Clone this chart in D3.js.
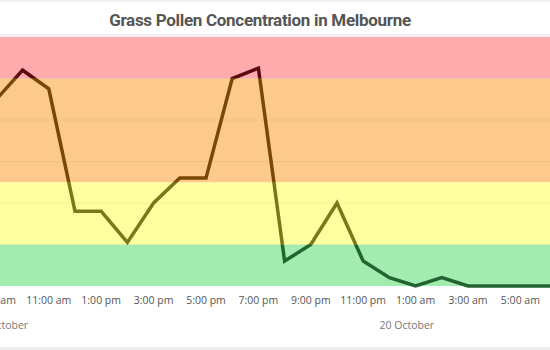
<!DOCTYPE html>
<html><head><meta charset="utf-8">
<script src="https://cdn.jsdelivr.net/npm/d3@7"></script>
<style>
html,body{margin:0;padding:0;background:#fff;overflow:hidden}
svg{display:block}
</style></head>
<body>
<svg id="c" width="550" height="350"></svg>
<script>
// ---- data ----
const hours = ["2024-10-19T09:00","2024-10-19T10:00","2024-10-19T11:00","2024-10-19T12:00","2024-10-19T13:00","2024-10-19T14:00","2024-10-19T15:00","2024-10-19T16:00","2024-10-19T17:00","2024-10-19T18:00","2024-10-19T19:00","2024-10-19T20:00","2024-10-19T21:00","2024-10-19T22:00","2024-10-19T23:00","2024-10-20T00:00","2024-10-20T01:00","2024-10-20T02:00","2024-10-20T03:00","2024-10-20T04:00","2024-10-20T05:00","2024-10-20T06:00","2024-10-20T07:00"];
const pollen = [90,104,95,36,36,21,40,52,52,100,105,12,20,40,12,4,0,4,0,0,0,0,0];
const bandLimits = [0,20,50,100,120];
const bandColors = ["#a3ecb0","#ffff9f","#fdca8c","#ffabad"];
const lineColors = ["#23632f","#79791c","#7a4806","#5e0715"];
const yTicks = [0,20,40,60,80,100,120];
const dateLabels = ["19 October","20 October"];
const dateLabelTimes = ["2024-10-19T09:10","2024-10-20T00:40"];
const title = "Grass Pollen Concentration in Melbourne";

const parse = d3.timeParse("%Y-%m-%dT%H:%M");
const data = hours.map((h,i)=>({t:parse(h), v:pollen[i]}));

const svg = d3.select("#c");
const W=550,H=350;
const plotTop=37,plotBottom=286;

const x = d3.scaleTime()
  .domain([parse(hours[0]), parse(hours[hours.length-1])])
  .range([-3.6, -3.6 + 26.2*(hours.length-1)]);
const y = d3.scaleLinear().domain([0,120]).range([plotBottom, plotTop]);

// card borders
svg.append("rect").attr("x",0).attr("y",0).attr("width",W).attr("height",2).attr("fill","#efefef");
svg.append("rect").attr("x",0).attr("y",34).attr("width",W).attr("height",3).attr("fill","#efefef");
svg.append("rect").attr("x",0).attr("y",347).attr("width",W).attr("height",3).attr("fill","#efefef");

// title
svg.append("text").attr("x",260).attr("y",26).attr("text-anchor","middle")
  .attr("font-family","Roboto, sans-serif")
  .attr("font-weight","bold").attr("font-size",17).attr("letter-spacing",-0.3).attr("fill","#555")
  .text(title);

// bands
const bands = d3.range(bandColors.length).map(i=>({lo:bandLimits[i],hi:bandLimits[i+1],c:bandColors[i]}));
svg.append("g").selectAll("rect").data(bands).join("rect")
  .attr("x",0).attr("width",W)
  .attr("y",d=>y(d.hi)).attr("height",d=>y(d.lo)-y(d.hi))
  .attr("fill",d=>d.c);

// gridlines
svg.append("g").selectAll("line").data(yTicks.slice(1,-1)).join("line")
  .attr("x1",0).attr("x2",W).attr("y1",d=>y(d)).attr("y2",d=>y(d))
  .attr("stroke","#000").attr("stroke-opacity",0.05).attr("stroke-width",1);

// gradient for line
const defs = svg.append("defs");
const grad = defs.append("linearGradient").attr("id","lg")
  .attr("gradientUnits","userSpaceOnUse")
  .attr("x1",0).attr("x2",0).attr("y1",y(0)).attr("y2",y(120));
bands.forEach((b,i)=>{
  grad.append("stop").attr("offset",b.lo/120).attr("stop-color",lineColors[i]);
  grad.append("stop").attr("offset",b.hi/120).attr("stop-color",lineColors[i]);
});

svg.append("path").datum(data)
  .attr("fill","none").attr("stroke","url(#lg)").attr("stroke-width",3.5)
  .attr("stroke-linejoin","miter")
  .attr("d", d3.line().x(d=>x(d.t)).y(d=>y(d.v)));

// x axis labels (every 2 hours from the first)
const fmt = d3.timeFormat("%-I:%M %p");
const ticks = data.map(d=>d.t).filter((t,i)=>i%2===0);
svg.append("g").selectAll("text").data(ticks).join("text")
  .attr("x",d=>x(d)).attr("y",304).attr("text-anchor","middle")
  .attr("font-family","'Open Sans', sans-serif").attr("font-size",10.5).attr("fill","#555")
  .text(d=>fmt(d).toLowerCase());

svg.append("g").selectAll("text").data(dateLabels).join("text")
  .attr("x",(d,i)=>x(parse(dateLabelTimes[i]))).attr("y",329).attr("text-anchor","middle")
  .attr("font-family","'Open Sans', sans-serif").attr("font-size",10.5).attr("fill","#777")
  .text(d=>d);
</script>
</body></html>
